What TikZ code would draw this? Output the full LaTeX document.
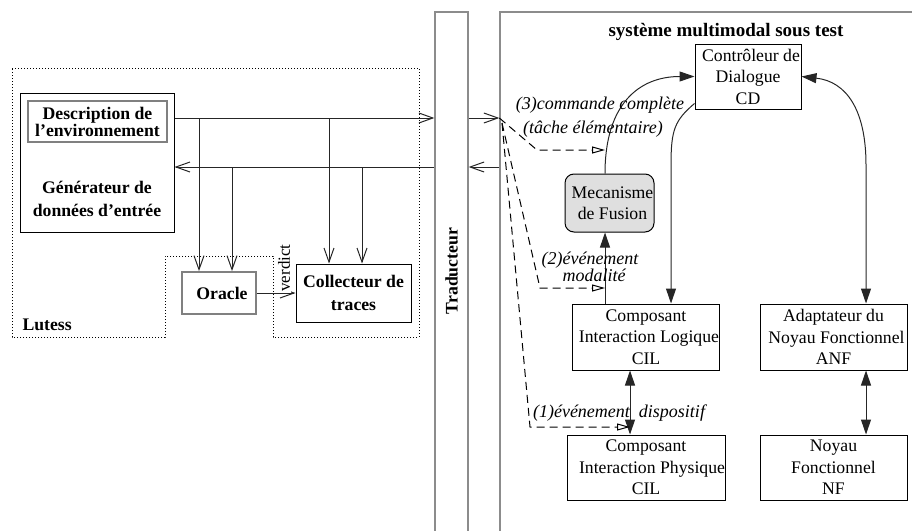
\documentclass[tikz,border=0pt]{standalone}
\usepackage{fontspec}
\setmainfont{Liberation Serif}
\usetikzlibrary{arrows.meta,calc}
\begin{document}
\begin{tikzpicture}[x=1pt,y=-1pt,
  nf/.style={font=\fontsize{17.7}{21.5}\selectfont},
  bf/.style={font=\fontsize{17.7}{23}\selectfont\bfseries},
  itf/.style={font=\fontsize{18}{21}\selectfont\itshape},
  box/.style={draw, line width=1pt, inner sep=0pt, align=center},
  graybox/.style={draw=gray, line width=1.8pt, inner sep=0pt, align=center},
  frame/.style={draw=gray!90, line width=1.3pt, inner sep=0pt},
  conn/.style={line width=1pt, draw=black!85},
  barb/.tip={Straight Barb[length=14pt,width=10pt,line width=1pt]},
  tri/.tip={Triangle[length=15pt,width=10pt]},
  otri/.tip={Triangle[open,length=13pt,width=7pt,line width=1pt]},
  dsh/.style={line width=1pt, dash pattern=on 8pt off 5pt}
]
\useasboundingbox (0,0) rectangle (912,530);

% ---- Lutess region (notched dotted outline)
\draw[dotted, line width=1pt] (12,68) -- (419,68) -- (419,337) -- (273,337) -- (273,256) -- (165,256) -- (165,337) -- (12,337) -- cycle;

\node[box, minimum width=154pt, minimum height=139pt] (gen) at (97,162.5) {};
\node[graybox, minimum width=139pt, minimum height=41pt, font=\fontsize{17.7}{16}\selectfont\bfseries] (desc) at (97.5,121.5) {Description de\\l’environnement};
\node[bf, align=center] (gentxt) at (97,199) {Générateur de\\données d’entrée};
\node[graybox, bf, minimum width=74pt, minimum height=42pt] (oracle) at (219,293) {\hspace*{6pt}Oracle};
\node[box, bf, minimum width=115pt, minimum height=58pt] (coll) at (353.5,293) {Collecteur de\\traces};
\node[bf, anchor=west] (lutess) at (19,325) {Lutess};

% ---- Traducteur and system frames
\node[frame, minimum width=33pt, minimum height=556pt] (trad) at (451.5,290) {};
\node[bf, rotate=90] (tradtxt) at (451.5,271) {Traducteur};
\node[frame, minimum width=430pt, minimum height=556pt] (sys) at (715,290) {};
\node[font=\fontsize{19}{23}\selectfont\bfseries] (title) at (726,32) {système multimodal sous test};

% ---- system components
\node[box, nf, minimum width=106pt, minimum height=65pt] (cd) at (748,76.5) {\hspace*{6pt}Contrôleur de\\Dialogue\\CD};
\node[draw, line width=1pt, fill=gray!25, rounded corners=9pt, inner sep=0pt, nf, align=center, minimum width=89pt, minimum height=58pt] (fus) at (609.5,203) {\hspace*{6pt}Mecanisme\\\hspace*{6pt}de Fusion};
\node[box, nf, minimum width=146pt, minimum height=66pt] (cil) at (646,337) {Composant\\\hspace*{6pt}Interaction Logique\\CIL};
\node[box, nf, minimum width=147pt, minimum height=66pt] (anf) at (833.5,337) {Adaptateur du\\\hspace*{6pt}Noyau Fonctionnel\\ANF};
\node[box, nf, minimum width=146pt, minimum height=65pt] (cip) at (646,467.5) {Composant\\\hspace*{12pt}Interaction Physique\\CIL};
\node[box, nf, minimum width=147pt, minimum height=65pt] (nfb) at (833.5,467.5) {Noyau\\Fonctionnel\\NF};

% ---- level coordinates
\coordinate (ytop) at (0,118);
\coordinate (ybot) at (0,167);
\coordinate (b1) at (199,118);
\coordinate (b2) at (329,118);
\coordinate (b3) at (232,167);
\coordinate (b4) at (362,167);
\coordinate (xa) at (605,0);
\coordinate (xd) at (630,0);
\coordinate (xc) at (866,0);
\coordinate (k1) at (671,165);
\coordinate (k2) at (866,165);

% ---- Lutess connectors
\draw[conn, -barb] (gen.east |- ytop) -- (trad.west |- ytop);
\draw[conn, barb-] (gen.east |- ybot) -- (trad.west |- ybot);
\draw[conn, -barb] (b1) -- (b1 |- oracle.north);
\draw[conn, -barb] (b3) -- (b3 |- oracle.north);
\draw[conn, -barb] (b2) -- (b2 |- coll.north);
\draw[conn, -barb] (b4) -- (b4 |- coll.north);
\draw[conn, -barb] (oracle.east) -- (coll.west |- oracle.east);
\node[rotate=90, fill=white, inner sep=1pt, font=\fontsize{17}{20}\selectfont] (verdict) at (284,268) {verdict};

\draw[conn, -barb] (trad.east |- ytop) -- (sys.west |- ytop);
\draw[conn, -barb] (sys.west |- ybot) -- (trad.east |- ybot);

% ---- system connectors
\draw[conn, -tri] (xa |- fus.north) .. controls +(0,-70) and +(-55,0) .. (cd.west);
\draw[conn, -tri] ([yshift=6pt]cd.south west) .. controls +(-20,17) and +(0,-35) .. (k1) -- (k1 |- cil.north);
\draw[conn, tri-tri] (cd.east) .. controls +(45,5) and +(0,-55) .. (k2) -- (k2 |- anf.north);
\draw[conn, -tri] (xa |- cil.north) -- (xa |- fus.south);
\draw[conn, tri-tri] (xd |- cil.south) -- (xd |- cip.north);
\draw[conn, tri-tri] (xc |- anf.south) -- (xc |- nfb.north);

% ---- dashed event arrows
\coordinate (ds) at (502,123);
\coordinate (d1) at (537,150);
\coordinate (d2) at (540,288);
\coordinate (d3) at (530,427);
\draw[dsh, -otri] (sys.west |- ytop) -- (d1) -- (xa |- d1);
\draw[dsh, -otri] (ds) -- (d2) -- (xa |- d2);
\draw[dsh, -otri] (ds) -- (d3) -- (xd |- d3);

% ---- labels
\node[itf] (l3a) at (600,105) {(3)commande complète};
\node[itf] (l3b) at (593,129) {(tâche élémentaire)};
\node[itf, align=center, font=\fontsize{18}{15}\selectfont\itshape] (l2) at (590,267) {(2)événement\\\hspace*{8pt}modalité};
\node[itf] (l1) at (619,413) {(1)événement\ \ dispositif};
\end{tikzpicture}
\end{document}
